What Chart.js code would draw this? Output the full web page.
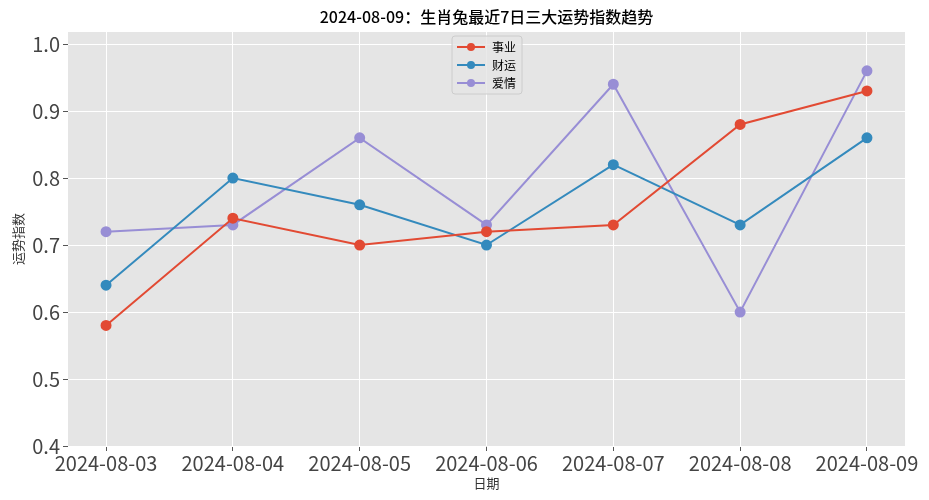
<!DOCTYPE html>
<html><head><meta charset="utf-8">
<script src="https://cdn.jsdelivr.net/npm/chart.js@4/dist/chart.umd.min.js"></script>
<style>body{margin:0;background:#fff}#w{width:929px;height:500px}</style>
</head><body><div id="w"><canvas id="c"></canvas></div>
<script>
const categories=["2024-08-03","2024-08-04","2024-08-05","2024-08-06","2024-08-07","2024-08-08","2024-08-09"];
const career=[0.58,0.74,0.70,0.72,0.73,0.88,0.93];
const wealth=[0.64,0.80,0.76,0.70,0.82,0.73,0.86];
const love=[0.72,0.73,0.86,0.73,0.94,0.60,0.96];
const seriesNames=["事业","财运","爱情"];
const colors=["#E24A33","#348ABD","#988ED5"];
const yTicks=[0.4,0.5,0.6,0.7,0.8,0.9,1.0];
const FONT='"Noto Sans CJK SC", "DejaVu Sans", sans-serif';
const pts=a=>a.map((v,i)=>({x:i,y:v}));
const deco={id:'deco',
 beforeDraw(ch){const a=ch.chartArea,c=ch.ctx;c.save();c.fillStyle='#E5E5E5';c.fillRect(a.left,a.top,a.right-a.left,a.bottom-a.top);c.restore();},
 afterDraw(ch){const c=ch.ctx,a=ch.chartArea;c.save();
  c.fillStyle='#000';c.textAlign='center';c.textBaseline='middle';
  c.font='500 16px '+FONT;c.fillText('2024-08-09：生肖兔最近7日三大运势指数趋势',(a.left+a.right)/2,17);
  c.font='13px '+FONT;c.fillStyle='#333';c.fillText('日期',(a.left+a.right)/2,483);
  c.translate(18,(a.top+a.bottom)/2);c.rotate(-Math.PI/2);c.fillText('运势指数',0,0);c.restore();
  c.save();const lx=452,ly=36,lw=70,lh=58;
  c.fillStyle='rgba(229,229,229,0.8)';c.strokeStyle='#ccc';c.lineWidth=1;
  c.beginPath();c.roundRect(lx,ly,lw,lh,3);c.fill();c.stroke();
  c.font='12px '+FONT;c.textBaseline='middle';c.textAlign='left';
  seriesNames.forEach((n,i)=>{const y=ly+11+i*18;c.strokeStyle=colors[i];c.lineWidth=2;
   c.beginPath();c.moveTo(lx+5,y);c.lineTo(lx+33,y);c.stroke();
   c.fillStyle=colors[i];c.beginPath();c.arc(lx+19,y,4,0,Math.PI*2);c.fill();
   c.fillStyle='#000';c.fillText(n,lx+40,y);});
  c.restore();}};
new Chart(document.getElementById('c'),{type:'line',
 data:{datasets:[career,wealth,love].map((d,i)=>({label:seriesNames[i],data:pts(d),borderColor:colors[i],backgroundColor:colors[i],borderWidth:2,pointRadius:4.5,pointHoverRadius:4.5,tension:0}))},
 options:{responsive:true,maintainAspectRatio:false,animation:false,
  layout:{padding:{top:32,right:24,left:0,bottom:0}},
  plugins:{legend:{display:false},tooltip:{enabled:false}},
  scales:{
   x:{type:'linear',min:-0.3,max:6.3,afterBuildTicks:s=>{s.ticks=categories.map((_,i)=>({value:i}));},
    afterFit:s=>{s.height=54;},
    grid:{color:'#fff',lineWidth:1,tickColor:'#555',tickLength:5},border:{display:false},
    ticks:{autoSkip:false,maxRotation:0,color:'#444',font:{size:20,family:FONT},padding:0,callback:v=>categories[v]}},
   y:{min:0.4,max:1.018,afterBuildTicks:s=>{s.ticks=yTicks.map(v=>({value:v}));},
    afterFit:s=>{s.width=68;},
    grid:{color:'#fff',lineWidth:1,tickColor:'#555',tickLength:5},border:{display:false},
    ticks:{color:'#444',font:{size:20,family:FONT},padding:3,callback:v=>v.toFixed(1)}}}},
 plugins:[deco]});
</script></body></html>
